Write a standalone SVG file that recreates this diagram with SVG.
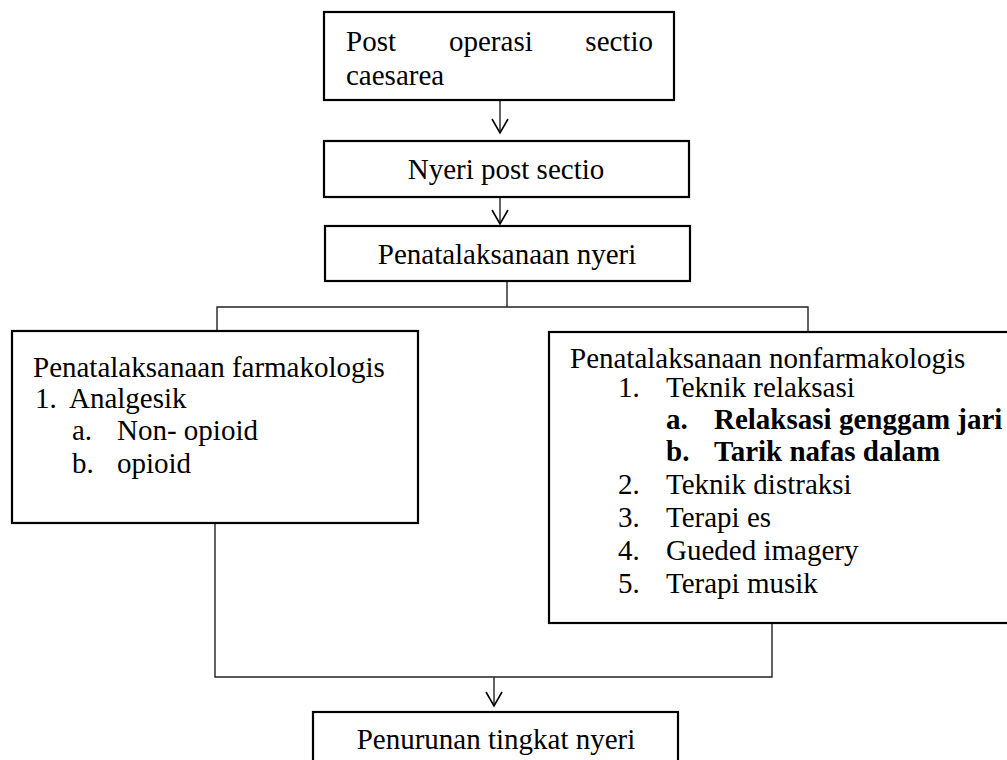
<svg xmlns="http://www.w3.org/2000/svg" width="1007" height="760" viewBox="0 0 1007 760">
<style>
  .box { fill: #ffffff; stroke: #000000; stroke-width: 2.2; }
  .t { font-family: "Liberation Serif", "Times New Roman", serif; font-size: 29px; fill: #000000; }
  .b { font-weight: bold; }
  .c { text-anchor: middle; }
  .e { text-anchor: end; }
  .conn { fill: none; stroke: #222222; stroke-width: 1.4; }
</style>
<defs>
  <marker id="vee" markerUnits="userSpaceOnUse" markerWidth="20" markerHeight="20" viewBox="-16 -10 20 20" refX="0" refY="0" orient="auto" overflow="visible">
    <path d="M-14,-8 L0,0 L-14,8" fill="none" stroke="#000000" stroke-width="1.6"/>
  </marker>
</defs>
<rect width="1007" height="760" fill="#ffffff"/>

<g id="connectors">
  <line class="conn" x1="500" y1="100" x2="500" y2="133" marker-end="url(#vee)"/>
  <line class="conn" x1="500" y1="197" x2="500" y2="224" marker-end="url(#vee)"/>
  <line class="conn" x1="507" y1="281" x2="507" y2="307"/>
  <polyline class="conn" points="217,331 217,307 808,307 808,332"/>
  <polyline class="conn" points="215,523 215,677 772,677 772,623"/>
  <line class="conn" x1="494" y1="677" x2="494" y2="706" marker-end="url(#vee)"/>
</g>

<g id="node-post-operasi">
  <rect class="box" x="324" y="12" width="350" height="88"/>
  <text class="t" x="346" y="51">Post</text>
  <text class="t" x="449" y="51">operasi</text>
  <text class="t e" x="653" y="51">sectio</text>
  <text class="t" x="346" y="85">caesarea</text>
</g>

<g id="node-nyeri-post">
  <rect class="box" x="324" y="141" width="365" height="56"/>
  <text class="t c" x="506" y="179">Nyeri post sectio</text>
</g>

<g id="node-penatalaksanaan">
  <rect class="box" x="325" y="226" width="365" height="55"/>
  <text class="t c" x="507" y="264">Penatalaksanaan nyeri</text>
</g>

<g id="node-farmakologis">
  <rect class="box" x="12" y="331" width="406" height="192"/>
  <text class="t" x="33" y="377">Penatalaksanaan farmakologis</text>
  <text class="t" x="35" y="408">1.</text>
  <text class="t" x="69" y="408">Analgesik</text>
  <text class="t" x="72" y="440">a.</text>
  <text class="t" x="117" y="440">Non- opioid</text>
  <text class="t" x="72" y="473">b.</text>
  <text class="t" x="117" y="473">opioid</text>
</g>

<g id="node-nonfarmakologis">
  <rect class="box" x="549" y="332" width="462" height="291"/>
  <text class="t" x="570" y="368">Penatalaksanaan nonfarmakologis</text>
  <text class="t" x="618" y="397">1.</text>
  <text class="t" x="666" y="397">Teknik relaksasi</text>
  <text class="t b" x="666" y="429">a.</text>
  <text class="t b" x="714" y="429">Relaksasi genggam jari</text>
  <text class="t b" x="666" y="461">b.</text>
  <text class="t b" x="714" y="461">Tarik nafas dalam</text>
  <text class="t" x="618" y="494">2.</text>
  <text class="t" x="666" y="494">Teknik distraksi</text>
  <text class="t" x="618" y="527">3.</text>
  <text class="t" x="666" y="527">Terapi es</text>
  <text class="t" x="618" y="560">4.</text>
  <text class="t" x="666" y="560">Gueded imagery</text>
  <text class="t" x="618" y="593">5.</text>
  <text class="t" x="666" y="593">Terapi musik</text>
</g>

<g id="node-penurunan">
  <rect class="box" x="313" y="712" width="365" height="60"/>
  <text class="t c" x="496" y="749">Penurunan tingkat nyeri</text>
</g>
</svg>
